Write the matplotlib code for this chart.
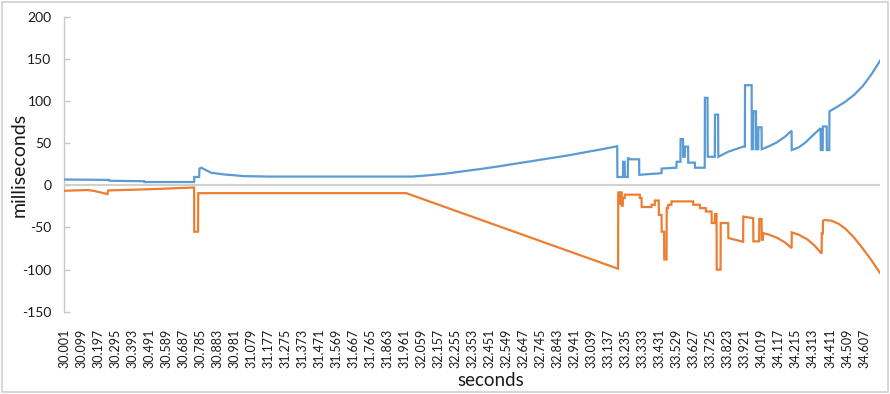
import matplotlib
matplotlib.use("Agg")
import matplotlib.pyplot as plt
from matplotlib.patches import Rectangle

plt.rcParams['font.family'] = ['Lato', 'DejaVu Sans']

# Category start and spacing of labelled ticks (seconds)
t_start = 30.001
t_step = 0.098
n_labels = 48
t_end = 34.699

# Upper trace (milliseconds) as vertices: time, value
blue_t = [30.001, 30.260, 30.262, 30.462, 30.464, 30.750, 30.751, 30.779, 30.781,
          30.791, 30.848, 30.923, 31.039, 31.183, 32.007, 32.100, 32.200, 32.300,
          32.400, 32.500, 32.600, 32.700, 32.800, 32.900, 33.000, 33.100, 33.186,
          33.187, 33.219, 33.220, 33.229, 33.230, 33.247,
          33.248, 33.258, 33.312, 33.313, 33.441, 33.442, 33.527, 33.528, 33.550,
          33.551, 33.565, 33.566, 33.575, 33.576, 33.594, 33.595, 33.633, 33.634,
          33.690, 33.691, 33.706, 33.707, 33.748, 33.749, 33.767, 33.768, 33.825,
          33.911, 33.921, 33.922, 33.960, 33.961, 33.969, 33.970, 33.985, 33.986,
          33.998, 33.999, 34.017, 34.018, 34.060, 34.104, 34.150, 34.190, 34.191,
          34.230, 34.270, 34.310, 34.357,
          34.358, 34.369, 34.370, 34.392, 34.393, 34.407, 34.408, 34.450, 34.500,
          34.550, 34.600, 34.650, 34.699]
blue_v = [7, 6.5, 5.5, 5, 4, 4, 10, 10, 20,
          21, 15, 13, 11, 10.5, 10.5, 12, 14, 16.8,
          19.5, 22.5, 25.8, 29, 32.3, 35.5, 39.3, 43, 46.5,
          10, 10, 28, 28, 10, 10,
          33, 31, 31, 12.6, 14.5, 20, 21, 28, 28,
          55, 55, 34, 34, 46, 46, 27, 27, 21,
          21, 104, 104, 34, 34, 84, 84, 34, 40,
          46, 46, 119, 119, 43, 43, 88, 88, 43,
          43, 69, 69, 43, 46.5, 51, 57.5, 65, 42,
          45, 51, 59, 68,
          42, 42, 70, 70, 42, 42, 88, 93, 99.5,
          107.5, 118, 132, 148]

# Lower trace (milliseconds) as vertices: time, value
orange_t = [30.001, 30.134, 30.174, 30.251, 30.255, 30.500, 30.750, 30.751, 30.773,
            30.774, 31.971, 33.191, 33.192, 33.200, 33.201, 33.206, 33.207, 33.212,
            33.213, 33.218, 33.219, 33.229, 33.230, 33.316, 33.317, 33.326, 33.327,
            33.383, 33.384, 33.402, 33.403, 33.425, 33.426, 33.441, 33.442, 33.456,
            33.457, 33.470, 33.471, 33.479, 33.480, 33.498, 33.499, 33.623, 33.624,
            33.662, 33.663, 33.696, 33.697, 33.729, 33.730, 33.748, 33.749, 33.758,
            33.759, 33.781, 33.782, 33.825, 33.826, 33.911, 33.912, 33.969, 33.970,
            34.003, 34.004, 34.017, 34.018, 34.025, 34.026, 34.060, 34.104, 34.150,
            34.190, 34.191, 34.230, 34.280, 34.320, 34.363, 34.364, 34.370, 34.371,
            34.380, 34.420, 34.460, 34.500, 34.550, 34.600, 34.650, 34.699]
orange_v = [-6.4, -5.5, -6.5, -10.3, -6, -4.5, -2.5, -55, -55,
            -9.2, -9.2, -99, -8.4, -8.4, -22, -22, -8.4, -8.4,
            -24, -24, -15, -15, -11, -11, -15, -15, -25.7,
            -25.7, -23, -23, -18, -18, -35, -35, -55, -55,
            -88, -88, -27, -27, -23, -23, -19, -19, -23,
            -23, -27, -27, -31, -31, -44.7, -44.7, -34, -34,
            -100, -100, -44.7, -44.7, -62.5, -67, -37, -39, -66.5,
            -66.5, -40, -40, -64.5, -64.5, -56.6, -58.5, -62, -67.5,
            -74.4, -55.8, -58.5, -64, -71, -81, -57, -57, -42,
            -41, -42, -45.5, -51.5, -62, -75, -89, -104]

y_ticks = [-150, -100, -50, 0, 50, 100, 150, 200]
x_ticks = [t_start + k * t_step for k in range(n_labels)]
x_labels = ["%.3f" % v for v in x_ticks]

W, H = 890, 394
fig = plt.figure(figsize=(W / 100, H / 100), dpi=100)
ax = fig.add_axes([64 / W, 1 - 311.7 / H, (880 - 64) / W, (311.7 - 17) / H])

ax.plot(blue_t, blue_v, color='#5B9BD5', lw=1.6, solid_joinstyle='miter', zorder=3)
ax.plot(orange_t, orange_v, color='#ED7D31', lw=1.6, solid_joinstyle='miter', zorder=3)

ax.set_xlim(t_start, t_end)
ax.set_ylim(-150, 200)
ax.axhline(0, color='#D0D0D0', lw=1.5, zorder=1)

for s in ['top', 'right', 'bottom']:
    ax.spines[s].set_visible(False)
ax.spines['left'].set_color('#C8C8C8')
ax.spines['left'].set_linewidth(1.0)

ax.set_yticks(y_ticks)
ax.set_yticklabels([str(v) for v in y_ticks])
ax.tick_params(axis='y', direction='in', length=4, width=1, color='#C8C8C8',
               labelsize=10, labelcolor='#1a1a1a', pad=9)
ax.set_xticks(x_ticks)
ax.set_xticklabels(x_labels, rotation=90)
ax.tick_params(axis='x', length=0, labelsize=9, labelcolor='#1a1a1a', pad=12)

fig.text(19 / W, 1 - 165 / H, 'milliseconds', rotation=90, ha='center', va='center',
         fontsize=14, color='#1a1a1a')
fig.text(491 / W, 1 - 380 / H, 'seconds', ha='center', va='center',
         fontsize=13.5, color='#1a1a1a')

fig.patches.append(Rectangle((2 / W, 2 / H), (W - 4) / W, (H - 4) / H,
                             transform=fig.transFigure, fill=False,
                             edgecolor='#D0D0D0', lw=1.2))

fig.savefig('out.png', dpi=100)
